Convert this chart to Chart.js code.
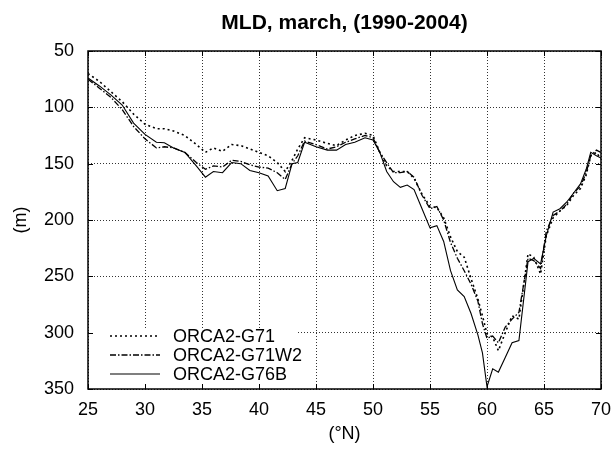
<!DOCTYPE html>
<html>
<head>
<meta charset="utf-8">
<title>MLD, march, (1990-2004)</title>
<script src="https://cdn.jsdelivr.net/npm/chart.js@4.4.1/dist/chart.umd.min.js"></script>
<style>
  html, body { margin: 0; padding: 0; background: #ffffff; }
  #wrap { width: 616px; height: 450px; }
</style>
</head>
<body>
<div id="wrap"><canvas id="mld" width="616" height="450"></canvas></div>
<script>
// Latitude (°N) of each zonal-mean sample
const latitudes = [25, 26, 27, 28, 29, 30, 31, 31.7, 32.5, 33.5, 34.5, 35.3, 36, 36.8, 37.6, 38.4, 39.2, 40,
  40.8, 41.6, 42.3, 42.9, 43.4, 44, 45, 46, 46.8, 47.6, 48.4, 49.3, 50, 50.6, 51.2, 51.8, 52.4, 53, 53.6,
  54.3, 55, 55.6, 56.2, 56.8, 57.4, 58, 58.6, 59.2, 59.6, 60, 60.5, 61, 61.6, 62.2, 62.8, 63.6, 64.1, 64.7,
  65.2, 65.8, 66.4, 67, 67.6, 68.2, 68.7, 69.1, 69.6, 70];

// March mixed-layer depth (m), 1990-2004 mean
const mldG71 = [70, 77, 86, 95, 106, 115, 119, 119, 121, 125, 133, 140, 136, 139, 133, 134, 137, 140,
  143, 149, 157, 147, 137, 127, 129, 132, 134, 129, 125, 123, 125, 140, 152, 157, 157, 157, 163,
  177, 188, 189, 198, 215, 228, 233, 252, 270, 285, 301, 304, 316, 300, 285, 288, 230, 233, 248,
  214, 198, 192, 187, 178, 172, 160, 143, 140, 146];

const mldG71W2 = [75, 83, 91, 102, 117, 128, 136, 135, 136, 140, 149, 155, 152, 153, 147, 148, 151, 153,
  154, 158, 164, 150, 143, 130, 133, 137, 135, 131, 128, 125, 127, 140, 149, 158, 158, 157, 162,
  178, 190, 188, 200, 220, 234, 245, 257, 272, 292, 305, 303, 309, 295, 288, 282, 234, 236, 243,
  210, 196, 192, 186, 176, 170, 158, 143, 138, 140];

const mldG76B = [74, 81, 89, 98, 114, 124, 131, 131.5, 136, 140, 152, 162, 157, 158, 149, 150, 156, 158,
  161, 174, 172, 150, 149, 131, 135, 138, 138, 133, 131, 127, 129, 140, 157, 166, 171, 169, 173,
  190, 207, 205, 219, 245, 262, 268, 283, 302, 318, 348, 332, 335, 322, 309, 307, 237, 234, 239,
  214, 193, 190, 184, 176, 168, 155, 140, 143, 145];

const seriesNames = ['ORCA2-G71', 'ORCA2-G71W2', 'ORCA2-G76B'];
const xTickValues = [25, 30, 35, 40, 45, 50, 55, 60, 65, 70];
const yTickValues = [50, 100, 150, 200, 250, 300, 350];

const FONT = "'Liberation Sans', Arial, Helvetica, sans-serif";

function toPoints(values) {
  return values.map((v, i) => ({ x: latitudes[i], y: v }));
}

// Inset key with a blanked background, plus gnuplot-style frame with inward tick marks
const framePlugin = {
  id: 'frameAndKey',
  afterDatasetsDraw(chart) {
    const ctx = chart.ctx;
    const area = chart.chartArea;
    const xs = chart.scales.x, ys = chart.scales.y;

    // key
    ctx.save();
    ctx.fillStyle = '#ffffff';
    ctx.fillRect(area.left + 1, area.bottom - 61, 208, 60);
    const rowY = [area.bottom - 53, area.bottom - 34, area.bottom - 15];
    chart.data.datasets.forEach((ds, i) => {
      ctx.beginPath();
      ctx.strokeStyle = ds.borderColor;
      ctx.lineWidth = ds.borderWidth;
      ctx.setLineDash(ds.borderDash || []);
      ctx.moveTo(area.left + 22, rowY[i]);
      ctx.lineTo(area.left + 72, rowY[i]);
      ctx.stroke();
      ctx.setLineDash([]);
      ctx.fillStyle = '#000000';
      ctx.font = '18px ' + FONT;
      ctx.textAlign = 'left';
      ctx.textBaseline = 'middle';
      ctx.fillText(ds.label, area.left + 85, rowY[i] + 1);
    });
    ctx.restore();

    // frame
    ctx.save();
    ctx.strokeStyle = '#000000';
    ctx.lineWidth = 1.5;
    ctx.strokeRect(area.left, area.top, area.right - area.left, area.bottom - area.top);
    ctx.lineWidth = 1;
    const tl = 5;
    ctx.beginPath();
    xTickValues.forEach(v => {
      const px = Math.round(xs.getPixelForValue(v)) + 0.5;
      ctx.moveTo(px, area.bottom); ctx.lineTo(px, area.bottom - tl);
      ctx.moveTo(px, area.top); ctx.lineTo(px, area.top + tl);
    });
    yTickValues.forEach(v => {
      const py = Math.round(ys.getPixelForValue(v)) + 0.5;
      ctx.moveTo(area.left, py); ctx.lineTo(area.left + tl, py);
      ctx.moveTo(area.right, py); ctx.lineTo(area.right - tl, py);
    });
    ctx.stroke();
    ctx.restore();
  }
};

const gridStyle = {
  color: 'rgba(0,0,0,0.8)',
  lineWidth: 1,
  drawTicks: false
};
const dottedBorder = { display: false, dash: [1, 2] };

new Chart(document.getElementById('mld'), {
  type: 'line',
  data: {
    datasets: [
      {
        label: seriesNames[0],
        data: toPoints(mldG71),
        borderColor: '#000000',
        borderWidth: 1.6,
        borderDash: [2, 3]
      },
      {
        label: seriesNames[1],
        data: toPoints(mldG71W2),
        borderColor: '#000000',
        borderWidth: 1.3,
        borderDash: [6, 2, 1.5, 2]
      },
      {
        label: seriesNames[2],
        data: toPoints(mldG76B),
        borderColor: '#000000',
        borderWidth: 1.1
      }
    ]
  },
  options: {
    responsive: false,
    animation: false,
    elements: {
      line: { tension: 0, fill: false },
      point: { radius: 0, hoverRadius: 0 }
    },
    layout: { padding: { left: 0, right: 0, top: 0, bottom: 0 } },
    plugins: {
      legend: { display: false },
      tooltip: { enabled: false },
      title: {
        display: true,
        fullSize: false,
        text: 'MLD, march, (1990-2004)',
        color: '#000000',
        font: { family: FONT, size: 21, weight: 'bold', lineHeight: 1.2 },
        padding: { top: 10.9, bottom: 14.9 }
      }
    },
    scales: {
      x: {
        type: 'linear',
        min: 25,
        max: 70,
        grid: gridStyle,
        border: dottedBorder,
        afterBuildTicks: s => { s.ticks = xTickValues.map(v => ({ value: v })); },
        afterFit: s => { s.height = 61; s.paddingLeft = 0; s.paddingRight = 15; },
        ticks: {
          color: '#000000',
          padding: 10.5,
          maxRotation: 0,
          font: { family: FONT, size: 18 }
        },
        title: {
          display: true,
          text: '(°N)',
          color: '#000000',
          font: { family: FONT, size: 18 },
          padding: { top: 2.1, bottom: 5.2 }
        }
      },
      y: {
        type: 'linear',
        reverse: true,
        min: 50,
        max: 350,
        grid: gridStyle,
        border: dottedBorder,
        afterBuildTicks: s => { s.ticks = yTickValues.map(v => ({ value: v })); },
        afterFit: s => { s.width = 88; },
        ticks: {
          color: '#000000',
          padding: 14,
          font: { family: FONT, size: 18 }
        },
        title: {
          display: true,
          text: '(m)',
          color: '#000000',
          font: { family: FONT, size: 18 },
          padding: { top: 10.5, bottom: 0 }
        }
      }
    }
  },
  plugins: [framePlugin]
});
</script>
</body>
</html>
